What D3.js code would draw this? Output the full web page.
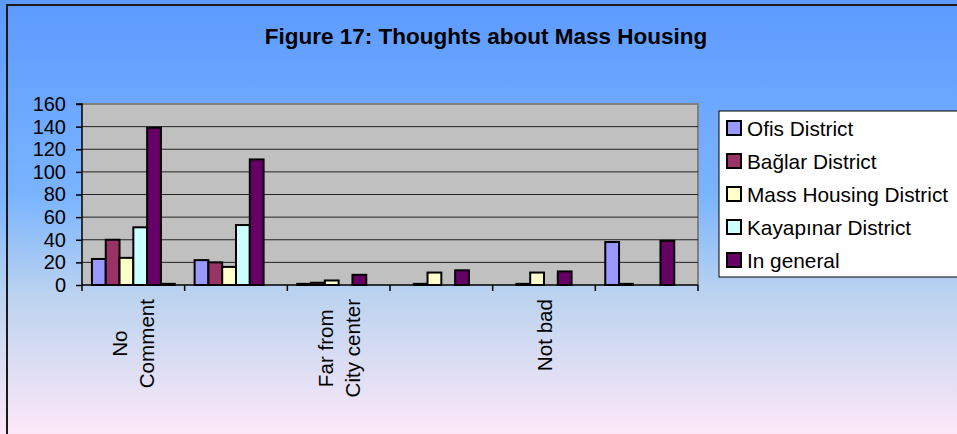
<!DOCTYPE html>
<html>
<head>
<meta charset="utf-8">
<script src="https://cdn.jsdelivr.net/npm/d3@7"></script>
<style>
  body { margin: 0; background: #fff; }
  svg { display: block; font-family: "Liberation Sans", Arial, sans-serif; }
</style>
</head>
<body>
<svg id="chart" width="957" height="434"></svg>
<script>
// categories (only every other label is printed on the axis)
let categories = ["No\nComment", "", "Far from\nCity center", "", "Not bad", ""];
let seriesNames = ["Ofis District", "Bağlar District", "Mass Housing District", "Kayapınar District", "In general", ""];
let seriesColors = ["#9999FF", "#993366", "#FFFFCC", "#CCFFFF", "#660066", "#FF8080"];

let ofis = [23, 22, 1, 0, 0, 38];
let baglar = [40, 20, 2, 1, 1, 1];
let massHousing = [24, 16, 4, 11, 11, 0];
let kayapinar = [51, 53, 0, 0, 0, 0];
let inGeneral = [139, 111, 9, 13, 12, 39];
let unnamed = [1, 0, 0, 0, 0, 0];
let allSeries = [ofis, baglar, massHousing, kayapinar, inGeneral, unnamed];

let yTicks = [0, 20, 40, 60, 80, 100, 120, 140, 160];

let svg = d3.select("#chart");
let plot = { left: 82, right: 698, top: 104, bottom: 285 };

// background gradient
let defs = svg.append("defs");
let grad = defs.append("linearGradient").attr("id", "bg")
  .attr("x1", 0).attr("y1", 0).attr("x2", 0).attr("y2", 1);
[[0, "#5C9AFF"], [0.45, "#7AB4FF"], [0.68, "#BBD3EF"], [1, "#FDE8F8"]].forEach(s =>
  grad.append("stop").attr("offset", s[0]).attr("stop-color", s[1]));

svg.append("rect").attr("x", 0).attr("y", 0).attr("width", 957).attr("height", 434)
  .attr("fill", "url(#bg)");
svg.append("rect").attr("x", 7).attr("y", 5).attr("width", 1000).attr("height", 500)
  .attr("fill", "none").attr("stroke", "#1a1a1a").attr("stroke-width", 2);

svg.append("text").attr("x", 486).attr("y", 44).attr("text-anchor", "middle")
  .attr("font-size", 22.5).attr("font-weight", "bold").text("Figure 17: Thoughts about Mass Housing");

let x0 = d3.scaleBand().domain(d3.range(categories.length)).range([plot.left, plot.right]);
let x1 = d3.scaleBand().domain(d3.range(allSeries.length)).range([0, x0.bandwidth()]).paddingOuter(0.72);
let y = d3.scaleLinear().domain([0, 160]).range([plot.bottom, plot.top]);

// plot area
svg.append("rect").attr("x", plot.left).attr("y", plot.top)
  .attr("width", plot.right - plot.left).attr("height", plot.bottom - plot.top)
  .attr("fill", "#C0C0C0");
svg.append("polyline")
  .attr("points", `${plot.left},${plot.top} ${plot.right},${plot.top} ${plot.right},${plot.bottom}`)
  .attr("fill", "none").attr("stroke", "#808080").attr("stroke-width", 2);

svg.append("g").selectAll("line").data(yTicks.slice(1, -1)).join("line")
  .attr("x1", plot.left).attr("x2", plot.right)
  .attr("y1", d => y(d)).attr("y2", d => y(d))
  .attr("stroke", "#222").attr("stroke-width", 1);

// bars
let groups = svg.append("g").selectAll("g").data(allSeries).join("g")
  .attr("fill", (d, i) => seriesColors[i]);
groups.selectAll("rect")
  .data((vals, si) => vals.map((v, ci) => ({ v, ci, si })).filter(d => d.v > 0))
  .join("rect")
  .attr("x", d => x0(d.ci) + x1(d.si))
  .attr("y", d => y(d.v))
  .attr("width", x1.bandwidth())
  .attr("height", d => y(0) - y(d.v))
  .attr("stroke", "#000").attr("stroke-width", 2);

// y axis
let yAxis = svg.append("g").attr("transform", `translate(${plot.left},0)`)
  .call(d3.axisLeft(y).tickValues(yTicks).tickSize(6).tickPadding(10));
yAxis.select(".domain").attr("stroke", "#000").attr("stroke-width", 1.5).attr("d", `M-6,${plot.top}H0V${plot.bottom}`);
yAxis.selectAll(".tick line").attr("stroke", "#000").attr("stroke-width", 1.5);
yAxis.selectAll(".tick text").attr("font-size", 20).attr("fill", "#000")
  .attr("font-family", "Liberation Sans, Arial, sans-serif");

// x axis line and ticks at band edges
svg.append("line").attr("x1", plot.left).attr("x2", plot.right)
  .attr("y1", plot.bottom).attr("y2", plot.bottom).attr("stroke", "#000").attr("stroke-width", 1.5);
let edges = d3.range(categories.length).map(i => x0(i)).concat([plot.right]);
svg.append("g").selectAll("line").data(edges).join("line")
  .attr("x1", d => d).attr("x2", d => d)
  .attr("y1", plot.bottom).attr("y2", plot.bottom + 6)
  .attr("stroke", "#000").attr("stroke-width", 1.5);

// category labels, rotated, top aligned
let labelTop = 299;
categories.forEach((c, i) => {
  if (!c) return;
  let lines = c.split("\n");
  let cx = x0(i) + x0.bandwidth() / 2;
  let g = svg.append("g");
  let texts = lines.map((ln, li) => {
    let off = (li - (lines.length - 1) / 2) * 27;
    return g.append("text").attr("font-size", 20.6).attr("text-anchor", "middle")
      .attr("dominant-baseline", "central")
      .attr("data-x", cx + off).text(ln);
  });
  let maxLen = d3.max(texts, t => t.node().getComputedTextLength());
  let cy = labelTop + maxLen / 2;
  texts.forEach(t => {
    let tx = +t.attr("data-x");
    t.attr("transform", `translate(${tx},${cy}) rotate(-90)`);
  });
});

// legend
let legend = svg.append("g");
legend.append("rect").attr("x", 719).attr("y", 111).attr("width", 250).attr("height", 166)
  .attr("fill", "#fff").attr("stroke", "#000").attr("stroke-width", 1);
let items = legend.selectAll("g").data(seriesNames.slice(0, 5)).join("g")
  .attr("transform", (d, i) => `translate(727,${128 + i * 33})`);
items.append("rect").attr("x", 0).attr("y", -7).attr("width", 14).attr("height", 14)
  .attr("fill", (d, i) => seriesColors[i]).attr("stroke", "#000").attr("stroke-width", 2);
items.append("text").attr("x", 20).attr("y", 0).attr("dominant-baseline", "central")
  .attr("font-size", 20.8).text(d => d);
</script>
</body>
</html>
